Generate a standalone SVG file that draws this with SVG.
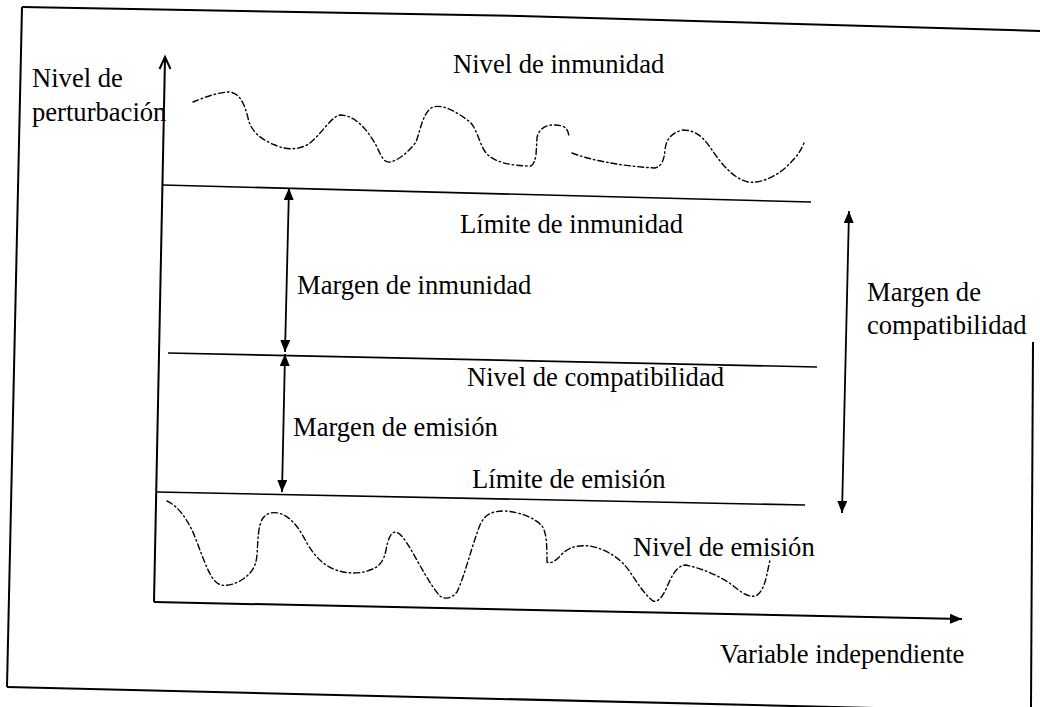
<svg xmlns="http://www.w3.org/2000/svg" width="1040" height="707" viewBox="0 0 1040 707">
  <style>
    .frame { fill: none; stroke: #000; stroke-width: 2; }
    .axis { fill: none; stroke: #000; stroke-width: 2; }
    .level { fill: none; stroke: #000; stroke-width: 1.6; }
    .curve { fill: none; stroke: #000; stroke-width: 1.4; stroke-dasharray: 6 3 1.5 3; stroke-linejoin: round; stroke-linecap: round; }
    .dim { fill: none; stroke: #000; stroke-width: 1.8; }
  </style>
  <defs>
    <marker id="tri" viewBox="0 0 12 10" refX="12" refY="5" markerWidth="12" markerHeight="10" markerUnits="userSpaceOnUse" orient="auto-start-reverse">
      <path d="M0,0 L12,5 L0,10 z" fill="#000"/>
    </marker>
  </defs>
  <rect width="1040" height="707" fill="#fff"/>

  <g id="frame">
    <polyline class="frame" points="22,7 520,16 1040,31"/>
    <line class="frame" x1="22" y1="7" x2="7" y2="687"/>
    <line class="frame" x1="7" y1="687" x2="1040" y2="712"/>
    <line class="frame" x1="1033" y1="342" x2="1031" y2="707"/>
  </g>

  <g id="axes">
    <line class="axis" x1="165" y1="58" x2="154" y2="602"/>
    <polyline class="axis" points="159.5,69 165,57 170.5,69" stroke-width="1.6"/>
    <line class="axis" x1="154" y1="602" x2="962" y2="619" marker-end="url(#tri)"/>
  </g>

  <g id="levels">
    <line class="level" x1="163" y1="185" x2="811" y2="202"/>
    <line class="level" x1="168" y1="353" x2="817" y2="367"/>
    <line class="level" x1="157" y1="492" x2="805" y2="505"/>
  </g>

  <g id="immunity-curve">
    <path class="curve" d="M193,102 C203,98 215,93 228,92 C240,92 245,105 248,118 C251,132 262,140 275,145 C286,150 296,150 307,145 C320,137 330,117 340,115 C355,115 368,130 377,147 C381,156 384,163 390,162 C400,160 410,150 416,142 C421,128 423,112 433,107 C445,104 458,113 470,122 C478,130 480,148 488,155 C496,162 510,166 531,166 C534,164 535,160 536,155 L537,138 C538,130 545,125 553,125 C565,125 568,128 569,137 M572,153 C590,160 620,166 655,168 C662,166 664,160 665,150 C666,140 670,134 682,130 C695,130 702,136 710,147 C720,162 732,178 748,182 C765,184 783,172 793,160 C798,155 801,150 804,143"/>
  </g>

  <g id="emission-curve">
    <path class="curve" d="M167,501 C178,506 186,518 192,530 C200,548 206,570 214,580 C220,588 230,586 240,581 C250,575 256,568 257,555 C258,540 258,525 263,518 C267,513 272,512 278,513 C292,516 300,530 308,545 C316,558 325,566 336,570 C348,574 360,574 370,570 C380,567 384,560 386,550 C388,540 390,533 395,532 C400,532 405,540 410,548 C420,565 430,585 440,596 C446,600 452,598 457,592 C465,575 472,545 480,525 C485,514 492,511 505,511 C520,512 535,518 542,526 C546,532 547,540 547,562 C551,564 556,561 562,554 C570,546 580,545 590,546 C605,549 620,557 630,572 C638,584 645,595 653,601 C660,603 665,592 670,580 C675,570 680,565 686,565 C700,568 715,574 728,582 C738,589 746,598 756,596 C762,592 765,584 767,574 L770,560"/>
  </g>

  <g id="connectors">
    <line class="dim" x1="289" y1="188" x2="285" y2="352" marker-start="url(#tri)" marker-end="url(#tri)"/>
    <line class="dim" x1="285" y1="354" x2="282" y2="492" marker-start="url(#tri)" marker-end="url(#tri)"/>
    <line class="dim" x1="849" y1="211" x2="842" y2="513" marker-start="url(#tri)" marker-end="url(#tri)"/>
  </g>

  <g id="labels" font-family="Times New Roman, Liberation Serif, Tinos, DejaVu Serif, serif" font-size="26.6" fill="#000">
    <text x="32" y="87">Nivel de</text>
    <text x="32" y="121">perturbación</text>
    <text x="453" y="73">Nivel de inmunidad</text>
    <text x="460" y="233">Límite de inmunidad</text>
    <text x="297" y="294">Margen de inmunidad</text>
    <text x="867" y="301">Margen de</text>
    <text x="867" y="334">compatibilidad</text>
    <text x="467" y="386">Nivel de compatibilidad</text>
    <text x="293" y="436">Margen de emisión</text>
    <text x="472" y="488">Límite de emisión</text>
    <text x="633" y="556">Nivel de emisión</text>
    <text x="720" y="663">Variable independiente</text>
  </g>
</svg>
